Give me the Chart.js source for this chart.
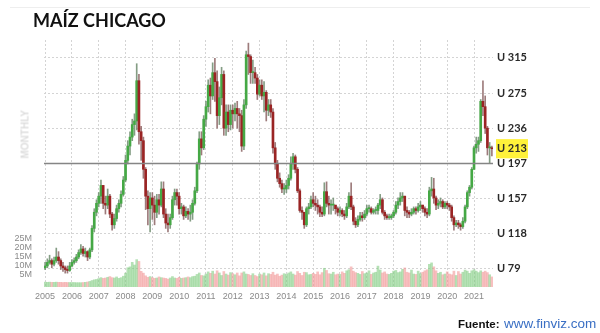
<!DOCTYPE html>
<html>
<head>
<meta charset="utf-8">
<script src="https://cdn.jsdelivr.net/npm/chart.js@4.4.1/dist/chart.umd.min.js"></script>
<style>
  body { margin: 0; background: #fff; }
  #wrap { position: relative; width: 600px; height: 333px; overflow: hidden; }
  #topline { position: absolute; left: 10px; top: 7px; width: 580px; height: 1px; background: #eeeeee; }
  #title { position: absolute; left: 33px; top: 9px; font: 700 18px Lato, sans-serif; color: #111; letter-spacing: 0; }
  #monthly { position: absolute; left: 1px; top: 129px; width: 48px; text-align: center; transform: rotate(-90deg);
             font: 700 10px "Liberation Sans", Arial, sans-serif; color: #dddddd; }
  #source { position: absolute; left: 458px; top: 314px; font-family: "Liberation Sans", Arial, sans-serif; white-space: nowrap; }
  #source b { font-size: 11.5px; color: #111; }
  #source span { font-size: 13.5px; color: #3a6fc4; }
  canvas { position: absolute; left: 0; top: 0; }
</style>
</head>
<body>
<div id="wrap">
  <div id="topline"></div>
  <canvas id="cornChart" width="600" height="333"></canvas>
  <div id="title">MAÍZ CHICAGO</div>
  <div id="monthly">MONTHLY</div>
  <div id="source"><b>Fuente:</b> <span>www.finviz.com</span></div>
</div>
<script>
// monthly candles, Jan 2005 .. Sep 2021 (U$/t)
const years = [2005, 2006, 2007, 2008, 2009, 2010, 2011, 2012, 2013, 2014, 2015, 2016, 2017, 2018, 2019, 2020, 2021];
const months = ['01', '02', '03', '04', '05', '06', '07', '08', '09', '10', '11', '12'];

const firstOpen = 80;
const closes = [
    82, 86, 88, 84, 88, 92, 88, 82, 80, 78, 77, 82,            // 2005
    86, 88, 92, 97, 101, 96, 98, 92, 100, 124, 142, 152,       // 2006
    160, 172, 152, 150, 160, 140, 128, 135, 146, 152, 162, 178, // 2007
    200, 216, 226, 240, 244, 289, 232, 222, 190, 160, 146, 158, // 2008
    150, 142, 156, 150, 168, 140, 130, 128, 136, 156, 164, 160, // 2009
    146, 148, 138, 143, 140, 142, 152, 166, 196, 224, 214, 246, // 2010
    260, 284, 272, 298, 288, 250, 270, 296, 236, 254, 240, 256, // 2011
    252, 258, 252, 250, 216, 262, 318, 316, 298, 298, 292, 274, // 2012
    284, 272, 276, 256, 262, 254, 214, 196, 180, 174, 168, 168, // 2013
    172, 180, 196, 204, 190, 166, 144, 142, 128, 146, 148, 156, // 2014
    152, 150, 148, 142, 140, 165, 152, 150, 150, 150, 146, 142, // 2015
    144, 140, 138, 148, 160, 148, 132, 128, 134, 138, 136, 140, // 2016
    146, 146, 142, 144, 144, 150, 156, 142, 138, 136, 136, 138, // 2017
    142, 150, 154, 158, 160, 144, 142, 140, 142, 146, 144, 148, // 2018
    150, 146, 142, 140, 166, 168, 158, 150, 152, 154, 148, 152, // 2019
    150, 148, 136, 128, 130, 128, 126, 132, 148, 164, 170, 190, // 2020
    214, 218, 222, 266, 260, 236, 214, 214, 213                 // 2021
];
const highs = [
    86, 90, 94, 90, 92, 102, 98, 90, 86, 82, 82, 86,
    89, 91, 95, 100, 106, 104, 102, 99, 102, 127, 146, 156,
    164, 178, 172, 160, 168, 162, 142, 140, 150, 156, 166, 182,
    206, 222, 232, 246, 252, 308, 296, 238, 226, 192, 166, 164,
    164, 160, 162, 162, 176, 176, 146, 140, 140, 160, 168, 168,
    164, 152, 150, 148, 146, 150, 156, 170, 198, 232, 232, 250,
    266, 290, 292, 309, 314, 300, 282, 304, 300, 262, 262, 262,
    262, 264, 266, 258, 256, 268, 322, 331, 318, 312, 304, 296,
    290, 290, 288, 278, 268, 268, 258, 220, 200, 186, 178, 174,
    178, 184, 204, 208, 206, 192, 168, 148, 142, 148, 152, 160,
    164, 160, 156, 150, 148, 175, 176, 160, 156, 158, 150, 148,
    148, 146, 144, 152, 164, 175, 150, 136, 138, 142, 142, 144,
    150, 150, 148, 146, 148, 152, 162, 158, 144, 140, 140, 140,
    144, 154, 158, 164, 164, 160, 148, 144, 146, 148, 148, 152,
    154, 150, 148, 146, 170, 181, 180, 160, 156, 158, 156, 154,
    154, 152, 150, 138, 133, 133, 130, 136, 150, 166, 172, 192,
    216, 226, 226, 268, 289, 272, 238, 220, 216
];
const lows = [
    78, 80, 84, 80, 82, 86, 84, 78, 76, 74, 74, 76,
    81, 84, 86, 90, 95, 93, 92, 88, 90, 98, 120, 138,
    148, 152, 146, 140, 146, 136, 122, 124, 132, 142, 148, 160,
    176, 196, 206, 222, 228, 234, 218, 200, 180, 145, 128, 120,
    134, 128, 136, 140, 148, 136, 124, 120, 124, 134, 150, 150,
    140, 140, 134, 136, 134, 132, 134, 150, 164, 190, 206, 212,
    238, 254, 252, 268, 266, 236, 240, 262, 228, 228, 232, 234,
    236, 244, 236, 232, 210, 212, 258, 296, 286, 286, 286, 268,
    272, 268, 254, 244, 250, 248, 208, 190, 176, 170, 164, 162,
    164, 168, 178, 190, 186, 164, 142, 134, 124, 126, 140, 146,
    148, 144, 140, 137, 137, 138, 148, 140, 140, 144, 140, 138,
    138, 137, 134, 136, 146, 145, 128, 125, 126, 132, 132, 134,
    138, 142, 140, 140, 140, 140, 146, 140, 134, 134, 134, 134,
    136, 140, 146, 150, 154, 138, 136, 136, 138, 140, 140, 142,
    144, 142, 138, 136, 138, 160, 152, 145, 146, 148, 146, 146,
    146, 144, 132, 122, 126, 124, 122, 124, 130, 146, 160, 168,
    190, 208, 210, 220, 250, 230, 206, 197, 205
];
// volume, millions of contracts
const volumes = [
    0.5, 0.4, 0.5, 0.4, 0.4, 0.5, 0.4, 0.4, 0.3, 0.4, 0.3, 0.3,
    0.3, 0.3, 0.2, 0.2, 0.2, 0.3, 0.4, 0.6, 0.9, 1.4, 1.8, 2.0,
    2.5, 3.0, 2.6, 2.8, 3.2, 3.6, 3.0, 2.8, 3.4, 2.6, 3.0, 3.8,
    5.5, 8.5, 9.0, 11.5, 10.0, 13.0, 12.0, 6.5, 5.5, 4.0, 3.2, 3.6,
    3.0, 2.6, 2.8, 3.4, 3.0, 2.8, 2.6, 2.2, 2.8, 3.6, 2.8, 2.6,
    3.2, 2.6, 2.8, 3.0, 3.4, 3.0, 3.6, 3.8, 4.8, 5.6, 4.2, 4.0,
    5.0, 6.2, 5.4, 6.6, 5.0, 6.8, 5.6, 4.2, 6.4, 5.0, 4.4, 5.8,
    5.2, 4.6, 5.6, 4.0, 5.6, 6.2, 5.0, 4.8, 4.2, 5.2, 4.2, 3.6,
    5.0, 4.6, 5.6, 4.0, 5.2, 4.8, 6.0, 4.4, 5.0, 3.8, 4.4, 5.2,
    4.8, 5.6, 6.2, 5.0, 4.4, 6.4, 5.4, 4.2, 6.0, 5.8, 4.6, 4.8,
    5.4, 4.8, 6.2, 4.6, 5.8, 8.2, 7.0, 5.2, 5.0, 6.0, 4.6, 5.0,
    4.8, 6.2, 5.4, 6.8, 7.4, 9.0, 6.6, 5.8, 5.4, 4.8, 6.4, 5.2,
    5.6, 6.8, 4.8, 5.6, 6.0, 9.4, 7.2, 5.6, 6.2, 5.0, 4.8, 5.4,
    6.6, 7.0, 5.8, 6.2, 7.6, 8.4, 6.0, 5.6, 7.2, 5.0, 4.8, 6.6,
    5.2, 6.0, 6.8, 7.4, 10.4, 11.2, 9.0, 6.8, 5.4, 6.0, 4.6, 5.0,
    6.2, 5.0, 4.6, 6.6, 4.2, 6.4, 5.0, 6.0, 7.2, 6.6, 5.4, 6.8,
    7.4, 6.6, 5.8, 6.8, 6.0, 6.6, 5.8, 4.6, 3.4
];

const priceTicks = [79, 118, 157, 197, 213, 236, 275, 315];
const lastPrice = 213;
const refLevel = 197;
const volTicks = [5, 10, 15, 20, 25];

// month labels
const labels = [];
years.forEach(y => months.forEach(m => {
    if (labels.length < closes.length) labels.push(y + '-' + m);
}));

const opens = closes.map((c, i) => i ? closes[i - 1] : firstOpen);
const isUp = closes.map((c, i) => c >= opens[i]);

const bodyData = closes.map((c, i) => [opens[i], c]);
const wickData = closes.map((c, i) => [Math.min(lows[i], opens[i], c), Math.max(highs[i], opens[i], c)]);

const UP = '#45a845', DOWN = '#9a2424';

// solid reference line at 197
const refLinePlugin = {
    id: 'refLine',
    afterDatasetsDraw(chart) {
        const { ctx, chartArea, scales } = chart;
        const y = Math.round(scales.y.getPixelForValue(refLevel)) + 0.5;
        ctx.save();
        ctx.strokeStyle = '#858585';
        ctx.lineWidth = 1.3;
        ctx.beginPath();
        ctx.moveTo(chartArea.left, y);
        ctx.lineTo(chartArea.right, y);
        ctx.stroke();
        ctx.restore();
    }
};

new Chart(document.getElementById('cornChart'), {
    type: 'bar',
    data: {
        labels: labels,
        datasets: [
            {
                label: 'Volume',
                data: volumes,
                yAxisID: 'yVol',
                backgroundColor: isUp.map(u => u ? 'rgba(120,200,120,0.55)' : 'rgba(240,140,140,0.55)'),
                barThickness: 2,
                grouped: false,
                base: -2.2,
                order: 3
            },
            {
                label: 'Range',
                data: wickData,
                yAxisID: 'y',
                backgroundColor: isUp.map(u => u ? 'rgba(110,140,110,0.85)' : 'rgba(140,100,100,0.85)'),
                barThickness: 1,
                grouped: false,
                order: 2
            },
            {
                label: 'Body',
                data: bodyData,
                yAxisID: 'y',
                backgroundColor: isUp.map(u => u ? UP : DOWN),
                barThickness: 2,
                minBarLength: 1,
                grouped: false,
                order: 1
            }
        ]
    },
    options: {
        responsive: false,
        animation: false,
        layout: { padding: { top: 40 } },
        plugins: { legend: { display: false }, tooltip: { enabled: false } },
        scales: {
            x: {
                offset: true,
                grid: {
                    offset: false,
                    drawTicks: false,
                    color: ctx => (ctx.tick && labels[ctx.index] && labels[ctx.index].endsWith('-01')) ? '#d4d4d4' : 'transparent'
                },
                border: { display: false, dash: [2, 2] },
                ticks: {
                    autoSkip: false,
                    maxRotation: 0,
                    padding: 4,
                    color: '#8a8a8a',
                    font: { family: 'Liberation Sans', size: 9 },
                    callback: (v, i) => labels[i].endsWith('-01') ? labels[i].slice(0, 4) : ''
                },
                afterFit: s => { s.height = 46; }
            },
            y: {
                position: 'right',
                min: 58.5,
                max: 334.5,
                afterBuildTicks: s => { s.ticks = priceTicks.map(v => ({ value: v })); },
                grid: {
                    drawTicks: false,
                    color: ctx => (ctx.tick && ctx.tick.value === lastPrice) ? 'transparent' : '#d4d4d4'
                },
                border: { display: false, dash: [2, 2] },
                ticks: {
                    autoSkip: false,
                    padding: 4,
                    color: '#2a2a2a',
                    font: { family: 'Lato', weight: 'bold', size: 11 },
                    showLabelBackdrop: true,
                    backdropColor: ctx => ctx.tick.value === lastPrice ? '#fff23a' : 'rgba(0,0,0,0)',
                    backdropPadding: { top: 3, bottom: 3, left: 1, right: 1 },
                    callback: v => 'U ' + v
                },
                afterFit: s => { s.width = 107; }
            },
            yVol: {
                position: 'left',
                min: -2.2,
                max: 135,
                afterBuildTicks: s => { s.ticks = volTicks.map(v => ({ value: v })); },
                grid: { display: false },
                border: { display: false },
                ticks: {
                    autoSkip: false,
                    padding: 4,
                    color: '#8a8a8a',
                    font: { family: 'Liberation Sans', size: 9 },
                    callback: v => v + 'M'
                },
                afterFit: s => { s.width = 44; }
            }
        }
    },
    plugins: [refLinePlugin]
});
</script>
</body>
</html>
